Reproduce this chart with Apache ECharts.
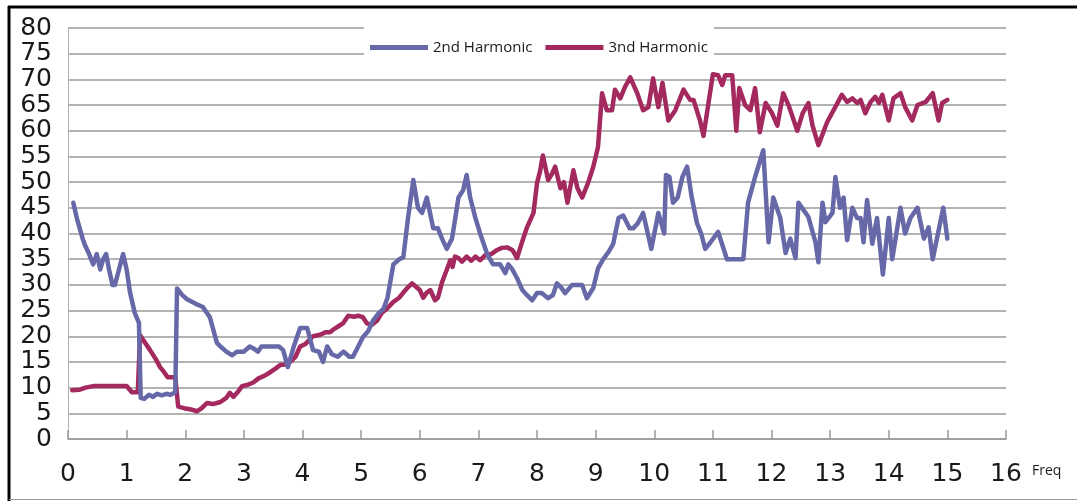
<!DOCTYPE html>
<html>
<head>
<meta charset="utf-8">
<style>
html,body{margin:0;padding:0;background:#fff;}
#chart{width:1077px;height:501px;}
</style>
<script src="https://cdn.jsdelivr.net/npm/echarts@6/dist/echarts.min.js"></script>
</head>
<body>
<div id="chart"></div>
<script>
const seriesNames = ['2nd Harmonic', '3nd Harmonic'];
const xAxisName = 'Freq';
const harmonic2 = [[0.09,46],[0.15,43],[0.2,41],[0.25,39],[0.29,37.7],[0.36,36],[0.43,34],[0.49,36],[0.55,33],[0.6,35],[0.65,36],[0.7,33],[0.76,30],[0.8,30],[0.87,33],[0.94,36],[1.0,33],[1.06,28.4],[1.14,24.5],[1.21,22.6],[1.24,8],[1.3,7.8],[1.38,8.6],[1.45,8.2],[1.52,8.8],[1.6,8.5],[1.68,8.8],[1.75,8.6],[1.83,9.1],[1.86,29.3],[1.95,28],[2.03,27.2],[2.13,26.6],[2.2,26.2],[2.3,25.7],[2.42,23.7],[2.54,18.7],[2.62,17.8],[2.7,17],[2.8,16.3],[2.88,17],[3.0,17],[3.1,18],[3.18,17.5],[3.24,17],[3.3,18],[3.45,18],[3.6,18],[3.67,17.3],[3.75,14],[3.85,18],[3.96,21.6],[4.08,21.6],[4.18,17.3],[4.28,17],[4.35,15],[4.42,18],[4.5,16.5],[4.6,16],[4.7,17],[4.8,16],[4.86,16],[4.95,18],[5.03,19.8],[5.12,21],[5.2,23],[5.3,24.5],[5.38,25.3],[5.45,27.5],[5.55,34],[5.65,35],[5.72,35.4],[5.8,43],[5.89,50.4],[5.97,45],[6.04,44],[6.12,47],[6.23,41],[6.31,41],[6.38,39],[6.46,37],[6.55,39],[6.62,44],[6.66,47],[6.74,48.4],[6.8,51.4],[6.86,47],[6.95,43],[7.03,40],[7.15,36],[7.25,34],[7.37,34],[7.46,32.3],[7.51,34],[7.58,33],[7.66,31.3],[7.75,29],[7.83,28],[7.92,27],[8.0,28.4],[8.08,28.4],[8.19,27.4],[8.27,28],[8.34,30.3],[8.41,29.5],[8.48,28.4],[8.6,30],[8.68,30],[8.77,30],[8.85,27.4],[8.96,29.4],[9.04,33.2],[9.13,35],[9.22,36.4],[9.3,38],[9.39,43],[9.47,43.5],[9.58,41],[9.64,41],[9.72,42],[9.81,44],[9.95,37],[10.07,44],[10.17,40],[10.2,51.4],[10.26,51],[10.32,46],[10.4,47],[10.48,51],[10.56,53],[10.64,47],[10.73,42],[10.8,40],[10.87,37],[10.96,38.3],[11.09,40.3],[11.24,35],[11.52,35],[11.6,46],[11.72,51],[11.86,56.2],[11.95,38.3],[12.03,47],[12.15,43],[12.24,36.2],[12.32,39],[12.41,35.2],[12.46,46],[12.63,43.2],[12.75,38.3],[12.8,34.4],[12.87,46],[12.92,42.2],[13.04,44],[13.09,51],[13.17,45],[13.23,47],[13.29,38.7],[13.38,45],[13.46,43],[13.52,43],[13.57,38.3],[13.63,46.5],[13.72,38],[13.8,43],[13.9,32],[14.0,43],[14.06,35],[14.2,45],[14.28,40],[14.37,43],[14.49,45],[14.6,39],[14.68,41.2],[14.75,35],[14.93,45],[15.0,39]];
const harmonic3 = [[0.07,9.5],[0.2,9.6],[0.3,10],[0.43,10.3],[0.6,10.3],[0.8,10.3],[1.0,10.3],[1.09,9.1],[1.19,9.1],[1.23,20.2],[1.3,19],[1.4,17.3],[1.5,15.5],[1.57,14],[1.64,13],[1.7,12],[1.83,12],[1.88,6.3],[1.98,6],[2.08,5.8],[2.2,5.4],[2.28,6],[2.37,7],[2.47,6.8],[2.6,7.2],[2.7,8],[2.76,9],[2.82,8.2],[2.9,9.2],[2.97,10.3],[3.05,10.5],[3.16,11],[3.25,11.8],[3.35,12.3],[3.45,13],[3.55,13.8],[3.62,14.4],[3.7,14.5],[3.79,15],[3.88,16],[3.96,18],[4.05,18.5],[4.18,20],[4.3,20.3],[4.4,20.8],[4.47,20.8],[4.55,21.5],[4.62,22],[4.69,22.5],[4.78,24],[4.88,23.8],[4.95,24],[5.03,23.7],[5.1,22.5],[5.18,22.2],[5.27,23],[5.35,24.5],[5.45,25.5],[5.55,26.7],[5.65,27.5],[5.72,28.5],[5.78,29.3],[5.87,30.3],[5.95,29.5],[6.0,29],[6.06,27.5],[6.12,28.5],[6.18,29],[6.26,27],[6.31,27.5],[6.38,30.5],[6.46,32.9],[6.52,34.8],[6.56,33.5],[6.6,35.5],[6.66,35.2],[6.72,34.5],[6.8,35.5],[6.88,34.7],[6.95,35.5],[7.03,34.8],[7.12,35.8],[7.22,36],[7.32,36.8],[7.4,37.2],[7.49,37.3],[7.58,36.8],[7.66,35.2],[7.75,38.5],[7.83,41.2],[7.94,44],[8.0,49.8],[8.05,52],[8.1,55.2],[8.19,50.4],[8.25,51.5],[8.31,53],[8.4,48.8],[8.46,50],[8.52,46],[8.62,52.3],[8.69,48.8],[8.77,47],[8.87,49.8],[8.96,53],[9.04,56.8],[9.11,67.3],[9.19,64],[9.28,64],[9.33,68],[9.42,66.3],[9.5,68.5],[9.59,70.4],[9.71,67.3],[9.81,64],[9.9,64.6],[9.98,70.2],[10.07,64.6],[10.14,69.3],[10.24,62],[10.36,64],[10.5,68],[10.61,66],[10.67,66],[10.78,62],[10.84,59],[11.0,71],[11.09,70.8],[11.16,68.9],[11.21,70.8],[11.33,70.8],[11.4,60],[11.45,68.3],[11.55,65],[11.64,64],[11.72,68.3],[11.8,59.7],[11.9,65.4],[12.01,63.4],[12.1,61],[12.2,67.3],[12.29,65],[12.44,60],[12.53,63.4],[12.63,65.4],[12.7,61],[12.8,57.2],[12.95,61.7],[13.06,64],[13.2,67],[13.29,65.6],[13.38,66.3],[13.46,65.4],[13.52,66],[13.6,63.4],[13.69,65.6],[13.77,66.6],[13.83,65.4],[13.89,67],[14.0,62],[14.08,66.3],[14.2,67.3],[14.28,64.6],[14.4,62],[14.49,65],[14.63,65.6],[14.75,67.3],[14.85,62],[14.91,65.4],[15.0,66]];

const chart = echarts.init(document.getElementById('chart'), null, {renderer: 'canvas'});
const tickFont = {fontFamily: 'DejaVu Sans', fontSize: 25, color: '#1a1a1a'};
chart.setOption({
  animation: false,
  backgroundColor: '#fff',
  color: ['#6668a8', '#a3295e'],
  grid: {left: 68, right: 71, top: 28, bottom: 62, containLabel: false},
  legend: {
    data: seriesNames,
    left: 364, top: 24,
    padding: [16, 6, 10, 6],
    backgroundColor: '#fff',
    icon: 'rect', itemWidth: 58, itemHeight: 5, itemGap: 13,
    textStyle: {fontFamily: 'Open Sans', fontSize: 15, color: '#1a1a1a'},
    z: 10
  },
  xAxis: {
    type: 'value', min: 0, max: 16, interval: 1,
    name: xAxisName, nameLocation: 'end', nameGap: 26,
    nameTextStyle: {fontFamily: 'Open Sans', fontSize: 14, color: '#1a1a1a', verticalAlign: 'top', padding: [25, 0, 0, 0]},
    axisLine: {show: true, lineStyle: {color: '#9a9a9a', width: 1.5}},
    axisTick: {show: true, inside: true, length: 9, lineStyle: {color: '#9a9a9a', width: 1.5}},
    axisLabel: Object.assign({margin: 23}, tickFont),
    splitLine: {show: false}
  },
  yAxis: {
    type: 'value', min: 0, max: 80, interval: 5,
    axisLine: {show: true, lineStyle: {color: '#b0b0b0', width: 1}},
    axisTick: {show: false},
    axisLabel: Object.assign({margin: 16, lineHeight: 22}, tickFont),
    splitLine: {show: true, lineStyle: {color: '#9a9a9a', width: 1.5}}
  },
  series: [
    {name: seriesNames[0], type: 'line', data: harmonic2, showSymbol: false, lineStyle: {width: 4.5, join: 'round', cap: 'round'}, z: 3},
    {name: seriesNames[1], type: 'line', data: harmonic3, showSymbol: false, lineStyle: {width: 4.5, join: 'round', cap: 'round'}, z: 2}
  ],
  graphic: [
    {type: 'line', shape: {x1: 9, y1: 6, x2: 9, y2: 501}, style: {stroke: '#000', lineWidth: 3}, silent: true},
    {type: 'line', shape: {x1: 8, y1: 7, x2: 1077, y2: 7}, style: {stroke: '#000', lineWidth: 3}, silent: true},
    {type: 'line', shape: {x1: 9, y1: 499.5, x2: 1077, y2: 499.5}, style: {stroke: '#9a9a9a', lineWidth: 1}, silent: true}
  ]
});
</script>
</body>
</html>
